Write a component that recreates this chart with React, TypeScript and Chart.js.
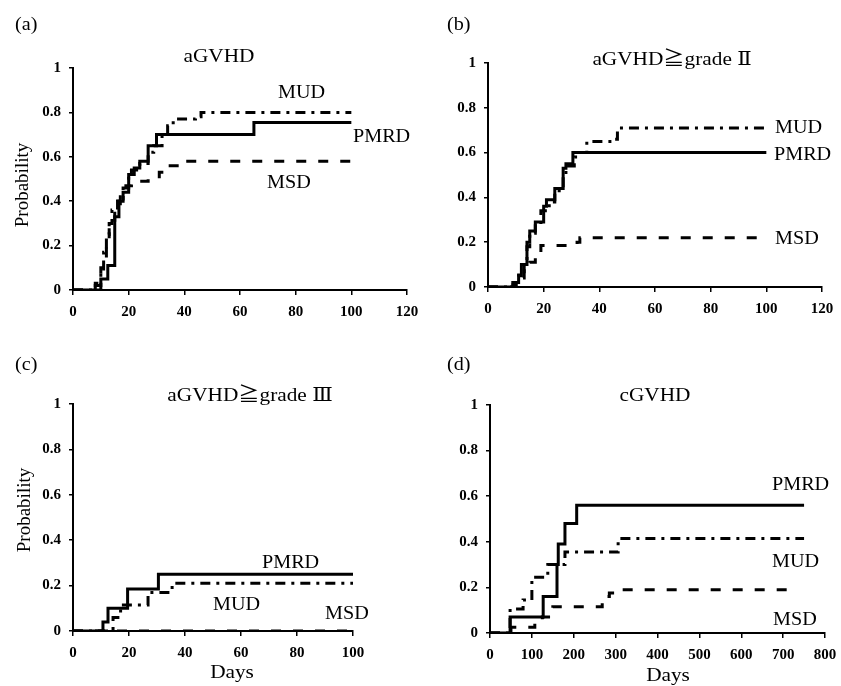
import React, { useEffect, useRef } from 'react';
import { Chart, registerables } from 'chart.js';

Chart.register(...registerables);

// ---------- DATA ----------
// Panel (a) aGVHD
const aPMRDDays = [0, 10, 12.5, 15, 16.5, 18, 20, 22, 24, 27, 30, 65, 100];
const aPMRDProb = [0, 0.05, 0.11, 0.33, 0.40, 0.44, 0.52, 0.55, 0.58, 0.65, 0.70, 0.755, 0.755];
const aMUDDays = [0, 8, 10, 11, 12, 13, 14, 16, 18, 20, 21, 24, 27, 29, 32, 34, 36, 44, 46, 100];
const aMUDProb = [0, 0.02, 0.08, 0.17, 0.25, 0.30, 0.36, 0.41, 0.46, 0.52, 0.54, 0.57, 0.62, 0.65, 0.70, 0.74, 0.77, 0.78, 0.80, 0.80];
const aMSDDays = [0, 8, 10, 12, 13, 15, 17, 19, 21, 27, 31, 34, 40, 100];
const aMSDProb = [0, 0.03, 0.10, 0.22, 0.30, 0.37, 0.42, 0.47, 0.49, 0.51, 0.53, 0.56, 0.58, 0.58];

// Panel (b) aGVHD >= grade II
const bPMRDDays = [0, 9, 11, 12, 14, 15, 17, 20, 21, 24, 27, 28, 30.5, 100];
const bPMRDProb = [0, 0.02, 0.05, 0.10, 0.20, 0.25, 0.29, 0.36, 0.39, 0.44, 0.53, 0.55, 0.60, 0.60];
const bMUDDays = [0, 9, 11, 13, 14, 15, 17, 19, 22, 24, 27, 28, 31, 33, 35.5, 45, 46.5, 100];
const bMUDProb = [0, 0.02, 0.06, 0.11, 0.18, 0.24, 0.28, 0.34, 0.38, 0.43, 0.50, 0.54, 0.58, 0.60, 0.65, 0.66, 0.71, 0.71];
const bMSDDays = [0, 9, 11, 13, 15, 17, 19, 32, 33, 100];
const bMSDProb = [0, 0.01, 0.04, 0.08, 0.11, 0.15, 0.185, 0.20, 0.22, 0.22];

// Panel (c) aGVHD >= grade III
const cPMRDDays = [0, 10.7, 12.5, 19.5, 30.5, 100];
const cPMRDProb = [0, 0.04, 0.10, 0.185, 0.25, 0.25];
const cMUDDays = [0, 14.3, 17, 26.8, 35.4, 100];
const cMUDProb = [0, 0.06, 0.115, 0.17, 0.21, 0.21];
const cMSDDays = [0, 100];
const cMSDProb = [0, 0];

// Panel (d) cGVHD
const dPMRDDays = [0, 48, 127, 160, 163, 179, 207, 750];
const dPMRDProb = [0, 0.07, 0.16, 0.30, 0.39, 0.48, 0.56, 0.56];
const dMUDDays = [0, 48, 79, 100, 138, 179, 306, 750];
const dMUDProb = [0, 0.105, 0.145, 0.245, 0.30, 0.355, 0.415, 0.415];
const dMSDDays = [0, 50, 107, 125, 150, 268, 285, 310, 728];
const dMSDProb = [0, 0.025, 0.045, 0.07, 0.115, 0.16, 0.175, 0.19, 0.19];

const yTickValues = [0, 0.2, 0.4, 0.6, 0.8, 1];
const yTickLabels = ['0', '0.2', '0.4', '0.6', '0.8', '1'];

// ---------- STYLE ----------
const SERIF = '"Liberation Serif", "DejaVu Serif", "Noto Sans CJK JP", serif';
const dashMap: Record<string, number[]> = {
  solid: [],
  dashdot: [10, 6, 3, 6],
  dash: [10, 12],
};

type TextItem = { t: string; x: number; y: number; size: number; align?: CanvasTextAlign; rot?: boolean };
type Series = { days: number[]; prob: number[]; style: string };
type Panel = {
  left: number; top: number; width: number; height: number;
  padTop: number; padRight: number; yWidth: number; xHeight: number;
  xMax: number; xStep: number; series: Series[]; texts: TextItem[];
};

const panels: Panel[] = [
  {
    left: 0, top: 0, width: 420, height: 330,
    padTop: 68, padRight: 13, yWidth: 73, xHeight: 40,
    xMax: 120, xStep: 20,
    series: [
      { days: aPMRDDays, prob: aPMRDProb, style: 'solid' },
      { days: aMUDDays, prob: aMUDProb, style: 'dashdot' },
      { days: aMSDDays, prob: aMSDProb, style: 'dash' },
    ],
    texts: [
      { t: '(a)', x: 15, y: 25, size: 18 },
      { t: 'aGVHD', x: 219, y: 57, size: 19, align: 'center' },
      { t: 'Probability', x: 23, y: 185, size: 19, rot: true },
      { t: 'MUD', x: 278, y: 93, size: 18 },
      { t: 'PMRD', x: 353, y: 137, size: 18 },
      { t: 'MSD', x: 267, y: 183, size: 18 },
    ],
  },
  {
    left: 420, top: 0, width: 421, height: 330,
    padTop: 63, padRight: 19, yWidth: 68, xHeight: 43,
    xMax: 120, xStep: 20,
    series: [
      { days: bPMRDDays, prob: bPMRDProb, style: 'solid' },
      { days: bMUDDays, prob: bMUDProb, style: 'dashdot' },
      { days: bMSDDays, prob: bMSDProb, style: 'dash' },
    ],
    texts: [
      { t: '(b)', x: 27, y: 25, size: 18 },
      { t: 'aGVHD≧grade Ⅱ', x: 252, y: 60, size: 19, align: 'center' },
      { t: 'MUD', x: 355, y: 128, size: 18 },
      { t: 'PMRD', x: 354, y: 155, size: 18 },
      { t: 'MSD', x: 355, y: 239, size: 18 },
    ],
  },
  {
    left: 0, top: 330, width: 420, height: 356,
    padTop: 74, padRight: 67, yWidth: 73, xHeight: 55,
    xMax: 100, xStep: 20,
    series: [
      { days: cPMRDDays, prob: cPMRDProb, style: 'solid' },
      { days: cMUDDays, prob: cMUDProb, style: 'dashdot' },
      { days: cMSDDays, prob: cMSDProb, style: 'dash' },
    ],
    texts: [
      { t: '(c)', x: 15, y: 35, size: 18 },
      { t: 'aGVHD≧grade Ⅲ', x: 250, y: 66, size: 19, align: 'center' },
      { t: 'Probability', x: 25, y: 180, size: 19, rot: true },
      { t: 'PMRD', x: 262, y: 233, size: 18 },
      { t: 'MUD', x: 213, y: 275, size: 18 },
      { t: 'MSD', x: 325, y: 284, size: 18 },
      { t: 'Days', x: 232, y: 343, size: 19, align: 'center' },
    ],
  },
  {
    left: 420, top: 330, width: 421, height: 356,
    padTop: 75, padRight: 16, yWidth: 70, xHeight: 53,
    xMax: 800, xStep: 100,
    series: [
      { days: dPMRDDays, prob: dPMRDProb, style: 'solid' },
      { days: dMUDDays, prob: dMUDProb, style: 'dashdot' },
      { days: dMSDDays, prob: dMSDProb, style: 'dash' },
    ],
    texts: [
      { t: '(d)', x: 27, y: 35, size: 18 },
      { t: 'cGVHD', x: 235, y: 66, size: 19, align: 'center' },
      { t: 'PMRD', x: 352, y: 155, size: 18 },
      { t: 'MUD', x: 352, y: 232, size: 18 },
      { t: 'MSD', x: 353, y: 290, size: 18 },
      { t: 'Days', x: 248, y: 346, size: 19, align: 'center' },
    ],
  },
];

function makeTextPlugin(texts: TextItem[]) {
  return {
    id: 'panelTexts',
    afterDraw(chart: any) {
      const ctx: CanvasRenderingContext2D = chart.ctx;
      ctx.save();
      ctx.fillStyle = '#000';
      ctx.textBaseline = 'middle';
      for (const it of texts) {
        ctx.save();
        ctx.font = `${it.size}px ${SERIF}`;
        ctx.translate(it.x, it.y);
        if (it.rot) {
          ctx.rotate(-Math.PI / 2);
          ctx.textAlign = 'center';
        } else {
          ctx.textAlign = it.align || 'left';
          ctx.scale(1.12, 1);
        }
        ctx.fillText(it.t, 0, 0);
        ctx.restore();
      }
      ctx.restore();
    },
  };
}

function PanelChart({ p }: { p: Panel }) {
  const ref = useRef<HTMLCanvasElement>(null);
  useEffect(() => {
    if (!ref.current) return;
    const tickFont = { family: SERIF, size: 15, weight: 'bold' as const };
    const chart = new Chart(ref.current, {
      type: 'line',
      data: {
        datasets: p.series.map((s) => ({
          data: s.days.map((d, i) => ({ x: d, y: s.prob[i] })),
          borderColor: '#000',
          borderWidth: 3,
          borderDash: dashMap[s.style],
          pointRadius: 0,
          stepped: true,
          fill: false,
        })),
      },
      options: {
        animation: false,
        responsive: false,
        maintainAspectRatio: false,
        layout: { padding: { top: p.padTop, right: p.padRight, bottom: 0, left: 0 } },
        plugins: {
          legend: { display: false },
          tooltip: { enabled: false },
          title: { display: false },
        },
        scales: {
          x: {
            type: 'linear',
            min: 0,
            max: p.xMax,
            ticks: { stepSize: p.xStep, color: '#000', font: tickFont, padding: 8, maxRotation: 0, autoSkip: false },
            grid: { drawOnChartArea: false, drawTicks: true, tickLength: 5, color: '#000', lineWidth: 1.5 },
            border: { display: true, color: '#000', width: 2 },
            afterFit: (s: any) => {
              s.height = p.xHeight;
              s.paddingLeft = 0;
              s.paddingRight = 0;
            },
          },
          y: {
            type: 'linear',
            min: 0,
            max: 1,
            afterBuildTicks: (s: any) => { s.ticks = yTickValues.map((v) => ({ value: v })); },
            ticks: {
              color: '#000',
              font: tickFont,
              padding: 8,
              callback: (v: any) => {
                const i = yTickValues.findIndex((t) => Math.abs(t - Number(v)) < 1e-6);
                return i >= 0 ? yTickLabels[i] : '';
              },
            },
            grid: { drawOnChartArea: false, drawTicks: true, tickLength: 4, color: '#000', lineWidth: 1.5 },
            border: { display: true, color: '#000', width: 2 },
            afterFit: (s: any) => {
              s.width = p.yWidth;
              s.paddingTop = 0;
              s.paddingBottom = 0;
            },
          },
        },
      } as any,
      plugins: [makeTextPlugin(p.texts)],
    });
    return () => chart.destroy();
  }, [p]);
  return (
    <canvas
      ref={ref}
      width={p.width}
      height={p.height}
      style={{ position: 'absolute', left: p.left, top: p.top, width: p.width, height: p.height, display: 'block' }}
    />
  );
}

export default function App() {
  return (
    <div style={{ position: 'absolute', left: 0, top: 0, width: 841, height: 686, background: '#fff', overflow: 'hidden' }}>
      {panels.map((p, i) => (
        <PanelChart key={i} p={p} />
      ))}
    </div>
  );
}
